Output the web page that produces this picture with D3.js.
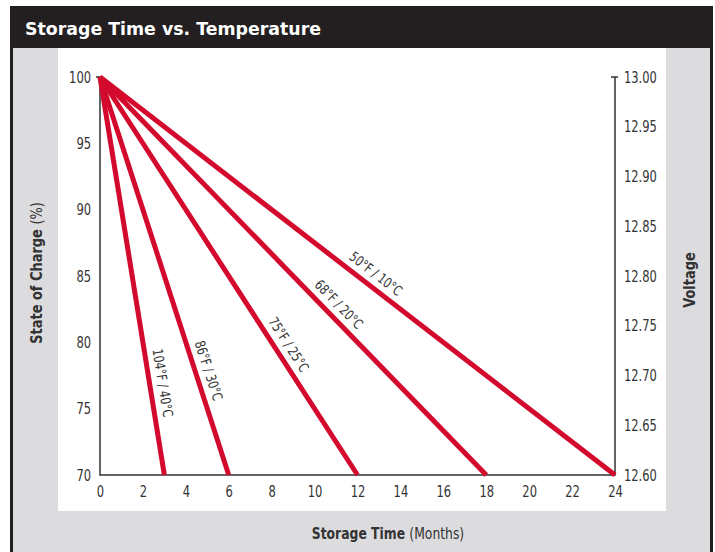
<!DOCTYPE html>
<html><head><meta charset="utf-8">
<script src="https://cdn.jsdelivr.net/npm/d3@7/dist/d3.min.js"></script>
<style>
html,body{margin:0;padding:0;background:#fff;}
svg{display:block;}
.n{font-family:'DejaVu Sans Condensed','DejaVu Sans',sans-serif;font-stretch:condensed;}
</style></head>
<body>
<svg id="c" width="715" height="552"></svg>
<script>
// ---- data ----
const title = "Storage Time vs. Temperature";
const seriesLabels = ["104°F / 40°C", "86°F / 30°C", "75°F / 25°C", "68°F / 20°C", "50°F / 10°C"];
const startMonths = [0, 0, 0, 0, 0];
const startCharge = [100, 100, 100, 100, 100];
const endMonths = [3, 6, 12, 18, 24];
const endCharge = [70, 70, 70, 70, 70];
const labelAlong = [0.774, 0.748, 0.69, 0.594, 0.52];
const xTicks = [0, 2, 4, 6, 8, 10, 12, 14, 16, 18, 20, 22, 24];
const yTicks = [100, 95, 90, 85, 80, 75, 70];
const voltTicks = [13.00, 12.95, 12.90, 12.85, 12.80, 12.75, 12.70, 12.65, 12.60];

const svg = d3.select("#c");
const ink = "#333";
const red = "#d30a2d";
const sx = 0.8;

// frame
svg.append("rect").attr("x", 10).attr("y", 48).attr("width", 703).attr("height", 510).attr("fill", "#dcdcde");
svg.append("rect").attr("x", 10).attr("y", 48).attr("width", 3).attr("height", 510).attr("fill", "#231f20");
svg.append("rect").attr("x", 710).attr("y", 48).attr("width", 3).attr("height", 510).attr("fill", "#231f20");
svg.append("rect").attr("x", 10).attr("y", 6).attr("width", 703).attr("height", 42).attr("fill", "#231f20");
svg.append("rect").attr("x", 58).attr("y", 48).attr("width", 608).attr("height", 463).attr("fill", "#fff");
svg.append("text").attr("x", 25).attr("y", 35).attr("fill", "#fff")
  .attr("font-family", "'DejaVu Sans',sans-serif").attr("font-weight", "bold").attr("font-size", 17)
  .attr("textLength", 296).attr("lengthAdjust", "spacingAndGlyphs").text(title);

// scales
const x = d3.scaleLinear().domain([0, 24]).range([100, 615]);
const y = d3.scaleLinear().domain([70, 100]).range([475, 77]);
const yv = d3.scaleLinear().domain([12.60, 13.00]).range([475, 77]);

// axes lines
const g = svg.append("g");
g.append("path").attr("d", `M${x(0)},${y(100)}V${y(70)}H${x(24)}V${y(100)}`)
  .attr("fill", "none").attr("stroke", ink).attr("stroke-width", 1.5);
g.append("line").attr("x1", x(0) - 4).attr("x2", x(0) + 1).attr("y1", y(100)).attr("y2", y(100)).attr("stroke", ink).attr("stroke-width", 1.5);
g.append("line").attr("x1", x(24) - 4).attr("x2", x(24) + 3).attr("y1", y(100)).attr("y2", y(100)).attr("stroke", ink).attr("stroke-width", 1.5);

// tick labels
const leftAxis = d3.axisLeft(y).tickValues(yTicks).tickSize(0).tickPadding(9).tickFormat(d3.format("d"));
const la = svg.append("g").attr("transform", `translate(${x(0)},0)`).call(leftAxis);
const rightAxis = d3.axisRight(yv).tickValues(voltTicks).tickSize(0).tickPadding(9).tickFormat(d3.format(".2f"));
const ra = svg.append("g").attr("transform", `translate(${x(24)},0)`).call(rightAxis);
const bottomAxis = d3.axisBottom(x).tickValues(xTicks).tickSize(0).tickPadding(11).tickFormat(d3.format("d"));
const ba = svg.append("g").attr("transform", `translate(0,${y(70)})`).call(bottomAxis);
[la, ra, ba].forEach(a => {
  a.attr("font-family", null);
  a.select(".domain").remove();
  a.selectAll("text").attr("class", "n").attr("font-size", 16).attr("fill", ink)
    .attr("x", function() { return (+d3.select(this).attr("x") || 0) / sx; })
    .attr("transform", `scale(${sx},1)`);
});

// lines
const lines = seriesLabels.map((l, i) => ({label: l, x0: startMonths[i], y0: startCharge[i], x1: endMonths[i], y1: endCharge[i], t: labelAlong[i]}));
svg.append("g").selectAll("line").data(lines).join("line")
  .attr("x1", d => x(d.x0)).attr("y1", d => y(d.y0))
  .attr("x2", d => x(d.x1)).attr("y2", d => y(d.y1))
  .attr("stroke", red).attr("stroke-width", 5).attr("stroke-linecap", "butt");

// line labels
svg.append("g").selectAll("text").data(lines).join("text")
  .attr("class", "n")
  .attr("transform", d => {
    const ax = x(d.x0), ay = y(d.y0), bx = x(d.x1), by = y(d.y1);
    const dx = bx - ax, dy = by - ay, len = Math.hypot(dx, dy);
    const ux = dx / len, uy = dy / len;
    const px = ax + dx * d.t + uy * 13, py = ay + dy * d.t - ux * 13;
    const ang = Math.atan2(dy, dx) * 180 / Math.PI;
    return `translate(${px},${py}) rotate(${ang}) scale(0.85,1)`;
  })
  .attr("text-anchor", "middle").attr("dominant-baseline", "central")
  .attr("font-size", 14).attr("fill", ink)
  .text(d => d.label);

// axis titles
const yt = svg.append("text").attr("class", "n").attr("transform", "translate(42,273) rotate(-90) scale(0.9,1)").attr("text-anchor", "middle")
  .attr("font-size", 16).attr("fill", ink);
yt.append("tspan").attr("font-weight", "bold").text("State of Charge ");
yt.append("tspan").text("(%)");
svg.append("text").attr("class", "n").attr("transform", "translate(695,280) rotate(-90) scale(0.9,1)").attr("text-anchor", "middle")
  .attr("font-size", 16).attr("font-weight", "bold").attr("fill", ink).text("Voltage");
const xt = svg.append("text").attr("class", "n").attr("transform", "translate(388,539) scale(0.86,1)").attr("text-anchor", "middle")
  .attr("font-size", 16).attr("fill", ink);
xt.append("tspan").attr("font-weight", "bold").text("Storage Time ");
xt.append("tspan").text("(Months)");
</script>
</body></html>
